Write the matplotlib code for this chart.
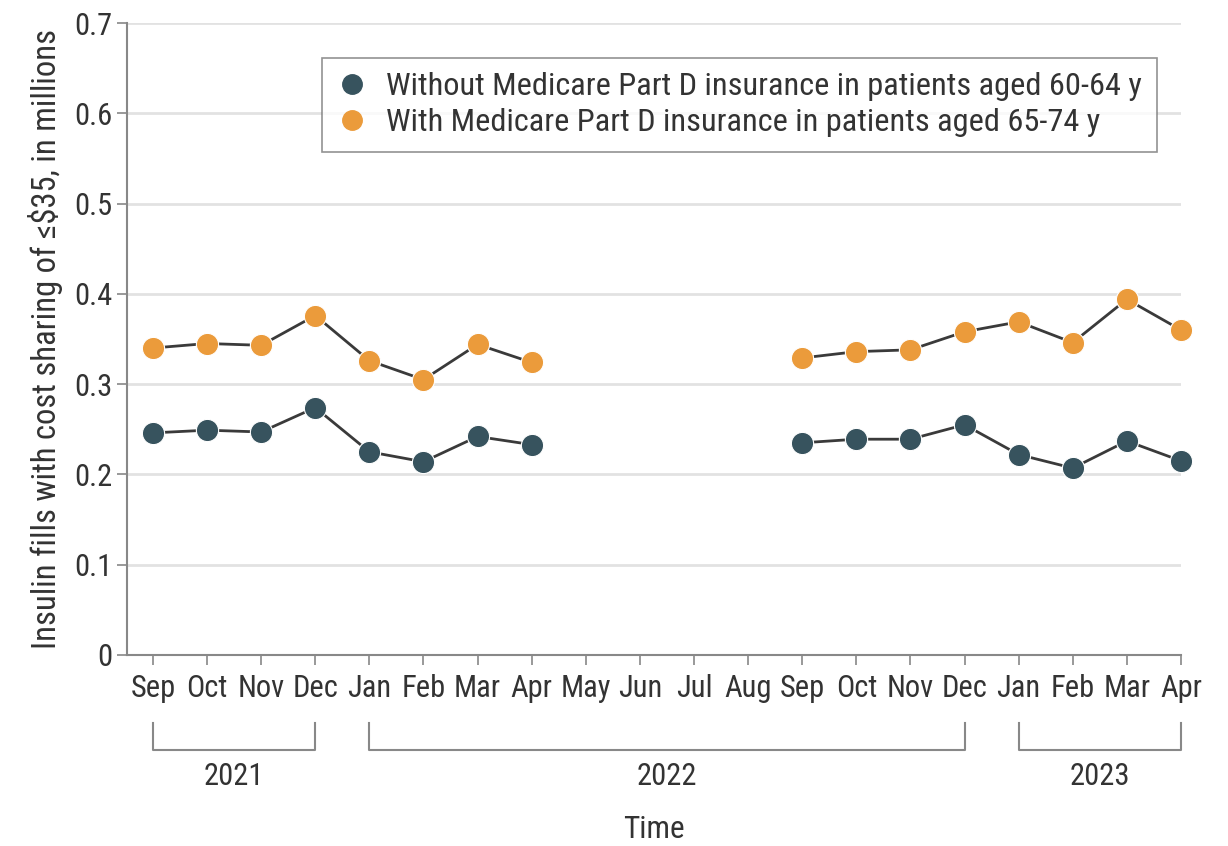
import matplotlib
matplotlib.use('Agg')
import matplotlib.pyplot as pl
import matplotlib.transforms as mtransforms
import numpy as np

pl.rcParams['font.family'] = ['Roboto Condensed', 'DejaVu Sans']

months = ['Sep', 'Oct', 'Nov', 'Dec', 'Jan', 'Feb', 'Mar', 'Apr', 'May', 'Jun',
          'Jul', 'Aug', 'Sep', 'Oct', 'Nov', 'Dec', 'Jan', 'Feb', 'Mar', 'Apr']
# Month indices with data (May-Aug 2022 missing)
idx_a = [0, 1, 2, 3, 4, 5, 6, 7]
idx_b = [12, 13, 14, 15, 16, 17, 18, 19]

without_a = [0.246, 0.249, 0.247, 0.274, 0.225, 0.214, 0.242, 0.233]
without_b = [0.235, 0.239, 0.239, 0.255, 0.222, 0.207, 0.237, 0.215]
with_a = [0.340, 0.345, 0.343, 0.376, 0.326, 0.305, 0.344, 0.324]
with_b = [0.329, 0.336, 0.338, 0.358, 0.369, 0.346, 0.394, 0.360]

years = ['2021', '2022', '2023']
year_spans = [(0, 3), (4, 15), (16, 19)]

dark = '#37535e'
orange = '#eb9b3b'
line = '#3a3a3a'
text_col = '#333333'

fig = pl.figure(figsize=(12.28, 8.46), dpi=100)
ax = fig.add_axes([0.1034, 0.2258, 0.8583, 0.747])

for idx, vals in [(idx_a, without_a), (idx_b, without_b)]:
    ax.plot(idx, vals, color=line, lw=2, zorder=2, clip_on=False)
    ax.plot(idx, vals, linestyle='none', marker='o', ms=16, color=dark,
            markeredgecolor='white', markeredgewidth=0.8, zorder=3, clip_on=False)
for idx, vals in [(idx_a, with_a), (idx_b, with_b)]:
    ax.plot(idx, vals, color=line, lw=2, zorder=2, clip_on=False)
    ax.plot(idx, vals, linestyle='none', marker='o', ms=16, color=orange,
            markeredgecolor='white', markeredgewidth=0.8, zorder=3, clip_on=False)

# legend handles
h1, = ax.plot([], [], linestyle='none', marker='o', ms=14, color=dark)
h2, = ax.plot([], [], linestyle='none', marker='o', ms=14, color=orange)
leg = ax.legend([h1, h2],
                ['Without Medicare Part D insurance in patients aged 60-64 y',
                 'With Medicare Part D insurance in patients aged 65-74 y'],
                loc='upper right', bbox_to_anchor=(0.977, 0.945), fontsize=23.3,
                frameon=True, fancybox=False, edgecolor='#777777',
                handletextpad=0.55, borderpad=0.45, labelspacing=0.22,
                handlelength=1.0, borderaxespad=0)
leg.get_frame().set_linewidth(1.2)
for t in leg.get_texts():
    t.set_color(text_col)

ax.set_xlim(-0.48, 19)
ax.set_ylim(0, 0.7)
ax.set_yticks(np.arange(0, 0.71, 0.1))
ax.set_yticklabels(['0'] + ['%.1f' % v for v in np.arange(0.1, 0.71, 0.1)])
ax.set_xticks(range(len(months)))
ax.set_xticklabels(months)
ax.tick_params(labelsize=22, colors=text_col, length=7, width=1.2,
               color='#888888')
ax.tick_params(axis='x', pad=7)
ax.grid(axis='y', color='#e2e2e2', lw=2)
ax.set_axisbelow(True)
for s in ['top', 'right']:
    ax.spines[s].set_visible(False)
for s in ['left', 'bottom']:
    ax.spines[s].set_color('#888888')
    ax.spines[s].set_linewidth(1.5)

ax.set_ylabel('Insulin fills with cost sharing of ≤$35, in millions',
              fontsize=23.5, color=text_col, labelpad=8)

# year brackets below the month labels
trans = mtransforms.blended_transform_factory(ax.transData, ax.transAxes)
for name, (x0, x1) in zip(years, year_spans):
    ax.plot([x0, x0, x1, x1], [-0.107, -0.150, -0.150, -0.107], color='#888888',
            lw=1.5, transform=trans, clip_on=False)
    ax.text((x0 + x1) / 2, -0.192, name, transform=trans, ha='center',
            va='center', fontsize=22, color=text_col)

ax.text(0.5, -0.276, 'Time', transform=ax.transAxes, ha='center', va='center',
        fontsize=22.5, color=text_col)

fig.savefig('out.png', dpi=100)
